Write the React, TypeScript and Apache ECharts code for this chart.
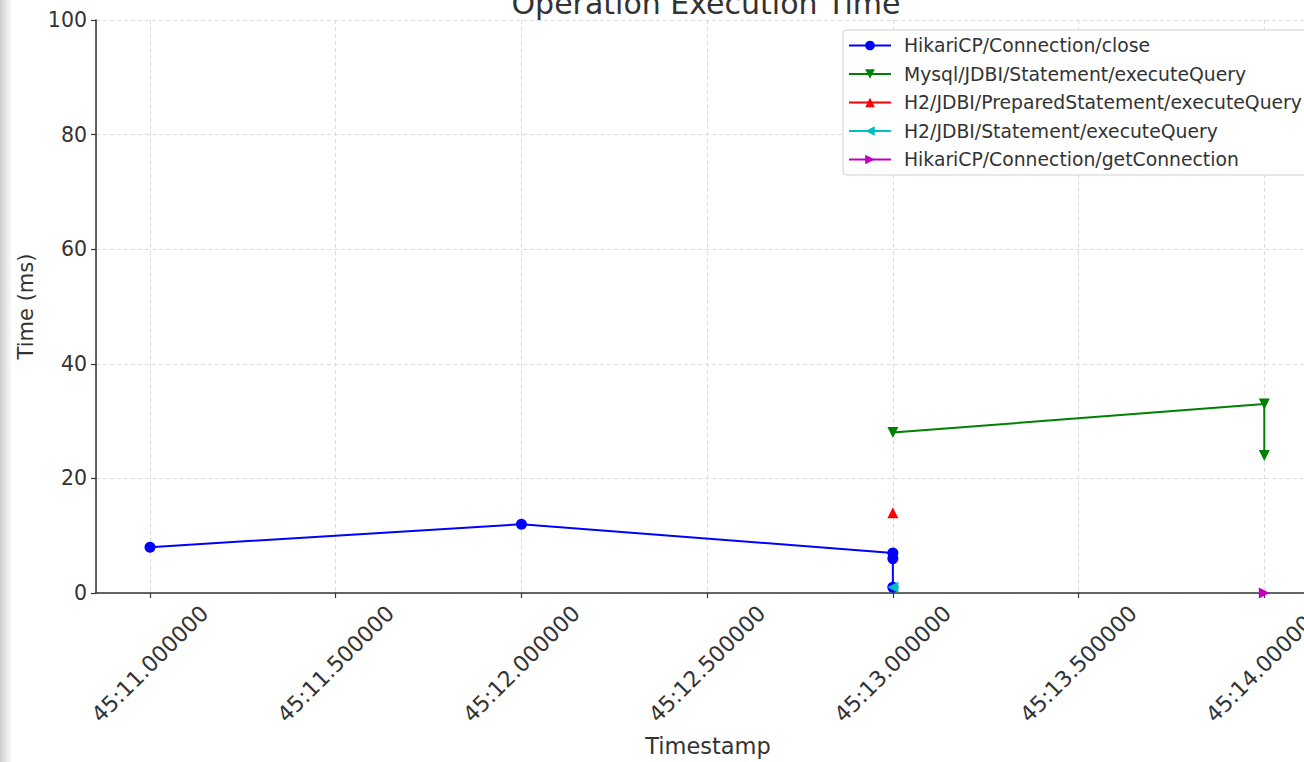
import React, { useEffect, useRef } from "react";
import * as echarts from "echarts";

// Seconds within minute 45 (x) and milliseconds (y)
const seriesNames = [
  "HikariCP/Connection/close",
  "Mysql/JDBI/Statement/executeQuery",
  "H2/JDBI/PreparedStatement/executeQuery",
  "H2/JDBI/Statement/executeQuery",
  "HikariCP/Connection/getConnection",
];
const closeData: [number, number][] = [
  [11.0, 8],
  [12.0, 12],
  [13.0, 7],
  [13.0, 6],
  [13.0, 1],
];
const mysqlData: [number, number][] = [
  [13.0, 28],
  [14.0, 33],
  [14.0, 24],
];
const h2PreparedData: [number, number][] = [[13.0, 14]];
const h2StatementData: [number, number][] = [[13.0, 1]];
const getConnData: [number, number][] = [[14.0, 0]];

const seriesColors = ["#0000ff", "#008000", "#ff0000", "#00bfbf", "#bf00bf"];
const seriesSymbols = ["circle", "triangle", "triangle", "triangle", "triangle"];
const seriesRotations = [0, 180, 0, 90, -90];
const allData = [closeData, mysqlData, h2PreparedData, h2StatementData, getConnData];

const X_MIN = 10.8546;
const X_MAX = 14.15;
const Y_MIN = 0;
const Y_MAX = 100;
const Y_INTERVAL = 20;

const FONT = "DejaVu Sans";
const TEXT = "#333333";

function fmtX(v: number): string {
  const s = v.toFixed(6);
  return "45:" + (s.length < 9 ? "0" + s : s);
}

export default function App() {
  const ref = useRef<HTMLDivElement>(null);
  useEffect(() => {
    if (!ref.current) return;
    const chart = echarts.init(ref.current, undefined, { renderer: "svg" });
    const option: any = {
      animation: false,
      backgroundColor: "#ffffff",
      textStyle: { fontFamily: FONT },
      title: {
        text: "Operation Execution Time",
        left: 706,
        textAlign: "center",
        top: -12,
        padding: 0,
        textStyle: { fontFamily: FONT, fontSize: 30, fontWeight: "normal", color: TEXT },
      },
      graphic: [
        {
          type: "rect",
          shape: { x: 0, y: 0, width: 12, height: 762 },
          style: {
            fill: new echarts.graphic.LinearGradient(0, 0, 1, 0, [
              { offset: 0, color: "rgba(0,0,0,0.20)" },
              { offset: 1, color: "rgba(0,0,0,0)" },
            ]),
          },
          z: 100,
          silent: true,
        },
      ],
      legend: {
        orient: "vertical",
        left: 843,
        top: 30,
        padding: [6, 8, 6, 5],
        itemWidth: 42,
        itemHeight: 12,
        itemGap: 9.5,
        backgroundColor: "#ffffff",
        borderColor: "#d0d0d0",
        borderWidth: 1,
        borderRadius: 4,
        textStyle: { fontFamily: FONT, fontSize: 18.8, color: TEXT, padding: [0, 0, 0, 8], lineHeight: 18 },
        data: seriesNames,
      },
      grid: { left: 96, top: 20, right: 10, bottom: 167, containLabel: false },
      xAxis: {
        type: "value",
        min: X_MIN,
        max: X_MAX,
        splitNumber: 7,
        name: "Timestamp",
        nameLocation: "middle",
        nameGap: 141,
        nameTextStyle: { fontFamily: FONT, fontSize: 22.5, color: TEXT },
        axisLine: { show: true, onZero: false, lineStyle: { color: "#333333", width: 1.5 } },
        axisTick: { show: true, length: 5, lineStyle: { color: "#333333", width: 1.2 } },
        axisLabel: {
          show: true,
          rotate: 45,
          align: "center",
          verticalAlign: "middle",
          margin: 71,
          fontFamily: FONT,
          fontSize: 22,
          color: TEXT,
          showMinLabel: false,
          showMaxLabel: false,
          formatter: (v: number) => fmtX(v),
        },
        splitLine: { show: true, lineStyle: { color: "#dcdcdc", type: [4, 3], width: 1 } },
      },
      yAxis: {
        type: "value",
        min: Y_MIN,
        max: Y_MAX,
        interval: Y_INTERVAL,
        name: "Time (ms)",
        nameLocation: "middle",
        nameGap: 60,
        nameRotate: 90,
        nameTextStyle: { fontFamily: FONT, fontSize: 21, color: TEXT },
        axisLine: { show: true, lineStyle: { color: "#333333", width: 1.5 } },
        axisTick: { show: true, length: 5, lineStyle: { color: "#333333", width: 1.2 } },
        axisLabel: { fontFamily: FONT, fontSize: 20.5, color: TEXT, margin: 9 },
        splitLine: { show: true, lineStyle: { color: "#dcdcdc", type: [4, 3], width: 1 } },
      },
      series: seriesNames.map((name, i) => ({
        name,
        type: "line",
        data: allData[i],
        symbol: seriesSymbols[i],
        symbolRotate: seriesRotations[i],
        symbolSize: 11,
        showSymbol: true,
        showAllSymbol: true,
        clip: true,
        lineStyle: { color: seriesColors[i], width: 2 },
        itemStyle: { color: seriesColors[i] },
        emphasis: { disabled: true },
      })),
    };
    chart.setOption(option);
    return () => chart.dispose();
  }, []);
  return (
    <div style={{ position: "absolute", left: 0, top: 0, width: 1304, height: 762, overflow: "hidden" }}>
      <div ref={ref} style={{ position: "absolute", left: 0, top: 0, width: 1330, height: 762 }} />
    </div>
  );
}
